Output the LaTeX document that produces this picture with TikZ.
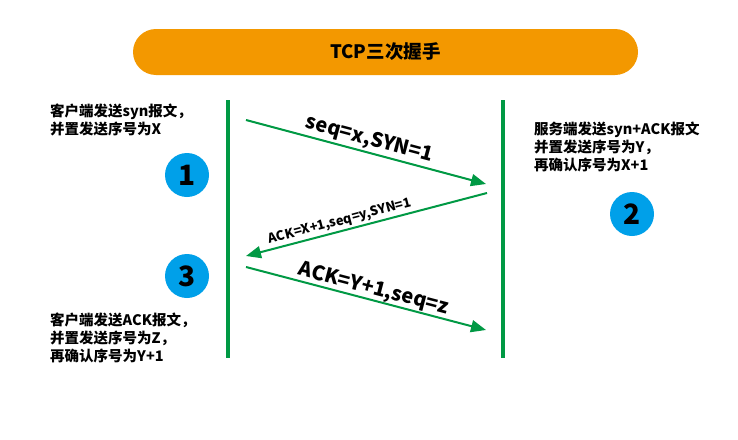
\documentclass[tikz,border=0pt]{standalone}
\usepackage{fontspec}
\setmainfont{Noto Sans CJK SC}
\usetikzlibrary{arrows.meta}
\definecolor{pillorange}{HTML}{F39800}
\definecolor{linegreen}{HTML}{009944}
\definecolor{stepblue}{HTML}{00A0E9}

\tikzset{
  lifeline/.style={line width=4pt, linegreen},
  msg/.style={line width=2pt, linegreen, -{Triangle[length=15pt,width=12pt]}},
  msglabel/.style={text=black, sloped, above},
  stepnum/.style={circle, fill=stepblue, minimum size=44pt, inner sep=0pt, font=\fontsize{28}{28}\selectfont\bfseries},
  note/.style={anchor=north west, inner sep=0pt, align=left, font=\fontsize{14.5}{18}\selectfont\bfseries}
}

\begin{document}
\begin{tikzpicture}[x=1pt, y=-1pt]
\useasboundingbox[fill=white] (0,0) rectangle (738,439);

\node[fill=pillorange, rounded corners=23pt, minimum width=505pt, minimum height=46pt,
  font=\fontsize{18.5}{18}\selectfont\bfseries] (title) at (385.5,52) {TCP三次握手};

% the two ends
\draw[lifeline] (228,100) coordinate (ctop) -- (228,358) coordinate (cbot);
\draw[lifeline] (503,100) coordinate (stop) -- (503,358) coordinate (sbot);

\coordinate (a1) at (246,120);
\coordinate (b1) at (486,184);
\coordinate (a2) at (487,193);
\coordinate (b2) at (246,256);
\coordinate (a3) at (246,267);
\coordinate (b3) at (486,330);

\draw[msg] (a1) -- node[msglabel, midway, inner sep=2pt,
  font=\fontsize{20}{20}\selectfont\bfseries] (l1) {seq=x,SYN=1} (b1);
\draw[msg] (a2) -- node[msglabel, pos=0.6, inner sep=2pt,
  font=\fontsize{13}{13}\selectfont\bfseries] (l2) {ACK=X+1,seq=y,SYN=1} (b2);
\draw[msg] (a3) -- node[msglabel, pos=0.52, inner sep=0pt,
  font=\fontsize{20}{20}\selectfont\bfseries] (l3) {ACK=Y+1,seq=z} (b3);

\node[stepnum] (n1) at (187,175) {1};
\node[stepnum] (n2) at (632,214) {2};
\node[stepnum] (n3) at (187,276) {3};

\node[note] (t1) at (50,104) {客户端发送syn报文，\\并置发送序号为X};
\node[note] (t2) at (534,122) {服务端发送syn+ACK报文\\并置发送序号为Y，\\再确认序号为X+1};
\node[note] (t3) at (50,313) {客户端发送ACK报文，\\并置发送序号为Z，\\再确认序号为Y+1};
\end{tikzpicture}
\end{document}
